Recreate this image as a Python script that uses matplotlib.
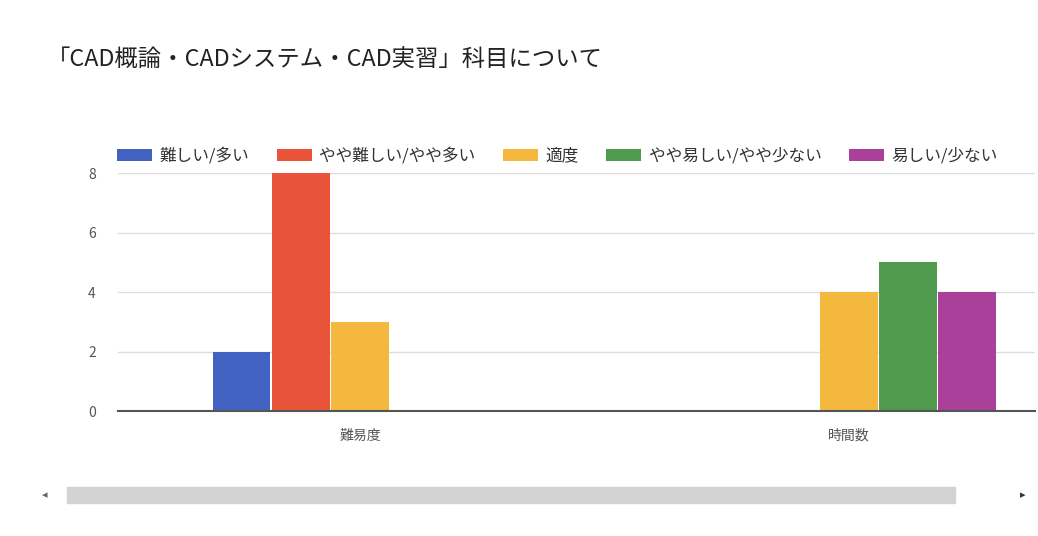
import matplotlib.pyplot as plt
from matplotlib.patches import Rectangle

plt.rcParams['font.family'] = ['Noto Sans CJK JP', 'DejaVu Sans']

categories = ["難易度", "時間数"]
series_names = ["難しい/多い", "やや難しい/やや多い", "適度", "やや易しい/やや少ない", "易しい/少ない"]
values = [
    [2, 0],   # 難しい/多い
    [8, 0],   # やや難しい/やや多い
    [3, 4],   # 適度
    [0, 5],   # やや易しい/やや少ない
    [0, 4],   # 易しい/少ない
]
colors = ["#4262c2", "#e9533a", "#f4b83f", "#4f9a4c", "#a9409a"]
yticks = [0, 2, 4, 6, 8]

fig = plt.figure(figsize=(10.38, 5.36), dpi=100)
ax = fig.add_axes([0.1137, 0.2332, 0.8830, 0.4440])

width = 0.121
x = list(range(len(categories)))
for i, (name, vals) in enumerate(zip(series_names, values)):
    offs = (i - 2) * width
    ax.bar([p + offs for p in x], vals, width=width * 0.97, color=colors[i], label=name)

ax.set_xlim(-0.495, 1.38)
ax.set_ylim(0, 8)
ax.set_yticks(yticks)
ax.set_xticks(x)
ax.set_xticklabels(categories, fontsize=10, color="#555555")
ax.tick_params(axis="y", labelsize=10, colors="#555555", length=0, pad=16)
ax.tick_params(axis="x", length=0, pad=13)
ax.grid(axis="y", color="#dddddd", linewidth=1)
ax.set_axisbelow(True)
for s in ["top", "right", "left"]:
    ax.spines[s].set_visible(False)
ax.spines["bottom"].set_color("#555555")
ax.spines["bottom"].set_linewidth(1.5)

ax.legend(loc="lower left", bbox_to_anchor=(-0.01, 1.0), ncol=5, frameon=False,
          fontsize=12, handlelength=2.1, handleheight=0.72, columnspacing=1.65,
          handletextpad=0.45, borderaxespad=0.1, labelcolor="#333333")

fig.text(0.045, 0.888, "「CAD概論・CADシステム・CAD実習」科目について", fontsize=16.8,
         color="#222222", va="center")

# scroll bar
fig.patches.append(Rectangle((0.065, 0.062), 0.855, 0.030, transform=fig.transFigure,
                             color="#d3d3d5", zorder=0))
fig.text(0.043, 0.077, "◂", fontsize=8, color="#666666", va="center", ha="center")
fig.text(0.985, 0.077, "▸", fontsize=8, color="#333333", va="center", ha="center")

plt.savefig("out.png", dpi=100)
